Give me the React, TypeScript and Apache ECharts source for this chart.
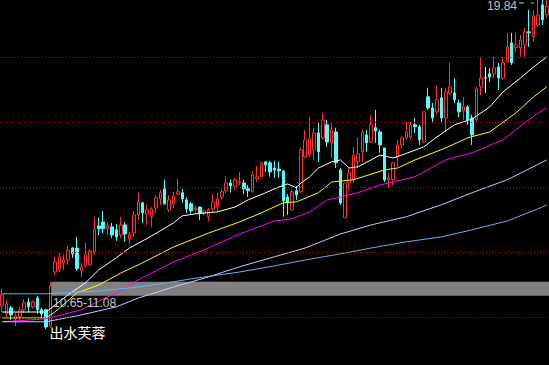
import React, { useEffect, useRef } from 'react';
import * as echarts from 'echarts';

// [open, close, low, high]
const CANDLES: [number, number, number, number][] = [
  [10.34, 10.68, 10.15, 10.86],
  [10.09, 10.40, 9.97, 10.52],
  [10.28, 10.06, 9.91, 10.34],
  [9.94, 10.03, 9.72, 10.12],
  [10.00, 10.22, 9.91, 10.31],
  [10.22, 10.43, 10.12, 10.55],
  [10.46, 10.31, 10.15, 10.58],
  [10.31, 10.46, 10.25, 10.52],
  [10.58, 10.22, 10.09, 10.65],
  [10.22, 10.09, 9.97, 10.28],
  [10.22, 9.69, 9.63, 10.25],
  [9.72, 10.95, 9.66, 11.02],
  [11.38, 11.69, 11.29, 11.85],
  [11.45, 11.85, 11.38, 11.97],
  [11.66, 11.75, 11.45, 11.91],
  [11.75, 12.06, 11.60, 12.18],
  [12.12, 11.94, 11.82, 12.15],
  [12.12, 11.48, 11.42, 12.46],
  [11.42, 11.54, 11.23, 11.66],
  [11.57, 11.91, 11.54, 12.28],
  [11.60, 12.03, 11.57, 12.09],
  [12.00, 12.71, 11.91, 13.08],
  [12.80, 12.71, 12.52, 13.05],
  [12.92, 12.71, 12.58, 13.26],
  [12.71, 12.80, 12.52, 12.92],
  [12.77, 12.52, 12.43, 12.89],
  [12.68, 12.46, 12.34, 12.86],
  [12.52, 12.83, 12.43, 13.08],
  [12.83, 12.55, 12.31, 12.92],
  [12.40, 12.55, 12.25, 12.62],
  [12.58, 13.14, 12.46, 13.26],
  [13.14, 13.54, 12.98, 13.82],
  [13.51, 13.20, 12.89, 13.54],
  [13.17, 13.29, 12.83, 13.45],
  [13.08, 13.32, 12.77, 13.38],
  [13.35, 13.66, 13.20, 13.75],
  [13.63, 13.82, 13.45, 13.91],
  [13.94, 13.48, 13.45, 14.22],
  [13.29, 13.60, 13.23, 13.75],
  [13.48, 13.72, 13.35, 13.85],
  [13.78, 13.85, 13.75, 14.25],
  [13.82, 13.63, 13.51, 13.94],
  [13.60, 13.32, 13.20, 13.69],
  [13.48, 13.26, 13.17, 13.54],
  [13.29, 13.35, 13.17, 13.42],
  [13.38, 13.20, 12.98, 13.40],
  [13.20, 13.26, 13.14, 13.29],
  [13.08, 13.29, 12.95, 13.35],
  [13.32, 13.54, 13.23, 13.78],
  [13.38, 13.63, 13.23, 13.82],
  [13.69, 13.85, 13.60, 13.94],
  [13.88, 14.12, 13.82, 14.31],
  [14.12, 14.03, 13.82, 14.22],
  [14.00, 14.22, 13.91, 14.28],
  [14.12, 14.15, 14.06, 14.46],
  [14.12, 13.94, 13.78, 14.22],
  [13.94, 13.88, 13.69, 14.06],
  [13.85, 14.37, 13.82, 14.49],
  [14.25, 14.31, 14.15, 14.65],
  [14.31, 14.74, 14.28, 14.77],
  [14.77, 14.68, 14.46, 14.80],
  [14.74, 14.46, 14.31, 14.80],
  [14.58, 14.52, 14.28, 14.80],
  [14.55, 14.49, 14.28, 14.77],
  [14.49, 13.57, 13.08, 14.52],
  [13.69, 13.51, 13.14, 13.78],
  [13.29, 13.85, 13.29, 13.91],
  [13.88, 13.75, 13.60, 14.03],
  [13.85, 15.14, 13.82, 15.20],
  [14.92, 15.45, 14.89, 15.75],
  [14.98, 15.48, 14.92, 16.15],
  [15.14, 15.66, 14.83, 15.82],
  [15.66, 15.08, 14.77, 15.97],
  [15.51, 16.06, 15.45, 16.28],
  [15.91, 15.38, 15.23, 16.06],
  [15.35, 15.75, 14.89, 15.97],
  [15.69, 14.74, 14.58, 15.82],
  [14.52, 13.51, 13.45, 14.58],
  [13.05, 14.12, 13.05, 14.12],
  [14.12, 14.43, 13.91, 14.58],
  [14.22, 14.98, 14.12, 15.23],
  [14.77, 15.02, 14.58, 15.51],
  [15.08, 15.69, 14.77, 15.75],
  [15.60, 15.35, 15.08, 15.75],
  [15.38, 15.91, 15.35, 16.22],
  [15.82, 15.72, 15.35, 16.37],
  [15.69, 15.29, 15.05, 15.75],
  [15.20, 14.22, 14.15, 15.20],
  [14.22, 14.28, 13.97, 14.43],
  [14.22, 14.74, 14.06, 14.77],
  [14.92, 15.29, 14.62, 15.45],
  [15.29, 15.51, 15.20, 15.54],
  [15.51, 15.69, 15.45, 16.00],
  [15.54, 15.91, 15.45, 16.00],
  [15.91, 15.85, 15.66, 16.12],
  [15.85, 15.45, 15.29, 15.91],
  [15.38, 16.31, 15.35, 16.31],
  [16.77, 16.43, 16.37, 17.05],
  [16.43, 16.12, 15.97, 16.58],
  [16.31, 16.68, 16.22, 17.11],
  [16.74, 16.12, 15.97, 17.05],
  [16.12, 16.92, 15.69, 17.05],
  [16.89, 17.08, 16.83, 17.82],
  [16.89, 16.68, 16.58, 17.35],
  [16.58, 16.31, 16.15, 16.68],
  [16.34, 16.46, 16.06, 16.77],
  [16.46, 16.06, 15.91, 16.52],
  [16.12, 15.60, 15.29, 16.22],
  [16.06, 17.02, 16.00, 17.08],
  [17.08, 17.35, 16.83, 18.00],
  [17.35, 17.35, 16.89, 17.69],
  [17.48, 17.38, 17.23, 17.66],
  [17.48, 17.66, 17.35, 18.00],
  [17.69, 17.35, 16.98, 17.82],
  [17.35, 17.82, 17.29, 18.00],
  [17.85, 18.31, 17.82, 18.74],
  [18.43, 17.82, 17.75, 18.74],
  [18.28, 18.37, 18.15, 18.74],
  [18.28, 18.52, 18.00, 18.68],
  [18.37, 18.77, 18.00, 18.89],
  [18.77, 18.74, 18.31, 19.45],
  [18.62, 19.26, 18.46, 19.45],
  [18.98, 19.29, 18.92, 19.84],
  [19.60, 19.14, 18.98, 19.75],
  [19.30, 19.55, 19.20, 19.75],
];

const DAYS = CANDLES.map((_, i) => `D${i + 1}`);

// moving-average lines: [candle index, price]
const MA_WHITE: [number, number][] = [
  [0, 10.15], [10, 10.15], [15, 10.68], [19, 11.05], [22, 11.45], [26, 11.82], [29, 12.12],
  [34, 12.49], [39, 12.89], [41, 13.11], [44, 13.17], [49, 13.23], [53, 13.38], [56, 13.6],
  [60, 13.82], [63, 14.0], [65, 14.09], [67, 13.97], [68, 14.12], [70, 14.31], [72, 14.58],
  [75, 14.77], [77, 14.83], [79, 14.58], [81, 14.62], [84, 14.83], [86, 14.98], [89, 14.89],
  [91, 14.98], [96, 15.23], [99, 15.54], [103, 15.91], [107, 16.09], [111, 16.46],
  [114, 16.92], [118, 17.35], [121, 17.69], [124, 18.0],
];
const MA_YELLOW: [number, number][] = [
  [0, 9.97], [10, 9.97], [12, 10.15], [17, 10.74], [22, 10.98], [27, 11.35], [31, 11.6],
  [39, 12.15], [47, 12.58], [54, 12.92], [59, 13.2], [64, 13.51], [67, 13.54], [72, 13.82],
  [75, 14.15], [80, 14.22], [87, 14.52], [90, 14.58], [94, 14.83], [101, 15.2], [106, 15.51],
  [111, 15.69], [117, 16.28], [121, 16.77], [124, 17.08],
];
const MA_MAGENTA: [number, number][] = [
  [0, 9.85], [10, 9.94], [18, 10.22], [26, 10.74], [31, 11.14], [39, 11.69], [47, 12.12],
  [54, 12.55], [62, 12.95], [66, 13.02], [70, 13.23], [74, 13.6], [77, 13.69], [81, 13.82],
  [86, 14.06], [94, 14.31], [101, 14.83], [107, 15.05], [114, 15.45], [122, 16.28], [124, 16.43],
];
const MA_LAVENDER: [number, number][] = [
  [0, 9.85], [10, 9.85], [18, 10.06], [26, 10.31], [31, 10.58], [39, 10.92], [47, 11.23],
  [54, 11.54], [62, 11.85], [69, 12.12], [77, 12.55], [84, 12.83], [92, 13.08], [100, 13.45],
  [107, 13.82], [115, 14.22], [124, 14.83],
];
const MA_BLUE: [number, number][] = [
  [0, 10.71], [10, 10.71], [22, 10.8], [31, 10.92], [39, 11.08], [43, 11.17], [54, 11.38],
  [62, 11.57], [69, 11.75], [77, 11.94], [84, 12.12], [92, 12.31], [100, 12.46], [107, 12.68],
  [115, 12.95], [123, 13.38], [124, 13.45],
];

const GRID_LEVELS = [10, 12, 14, 16, 18];
const BAND_LOW = 10.65;
const BAND_HIGH = 11.08;
const BAND_START = 11;
const BAND_TEXT = '10.65-11.08';
const SIGNAL_TEXT = '出水芙蓉';
const HIGH_TEXT = '19.84';

const Y_MIN = 8.52;
const Y_MAX = 19.75;

export default function App() {
  const ref = useRef<HTMLDivElement>(null);

  useEffect(() => {
    document.body.style.margin = '0';
    document.body.style.background = '#000';
    const chart = echarts.init(ref.current as HTMLDivElement, null, { renderer: 'svg' });

    const line = (name: string, data: [number, number][], color: string) => ({
      type: 'line',
      name,
      data,
      symbol: 'none',
      showSymbol: false,
      silent: true,
      z: 3,
      lineStyle: { color, width: 1 },
      itemStyle: { color },
    });

    chart.setOption({
      animation: false,
      backgroundColor: '#000000',
      grid: { left: 0, right: 0, top: 0, bottom: 0 },
      xAxis: { type: 'category', data: DAYS, boundaryGap: true, show: false },
      yAxis: { type: 'value', min: Y_MIN, max: Y_MAX, show: false },
      series: [
        {
          type: 'candlestick',
          name: 'K',
          data: CANDLES,
          barWidth: 3,
          z: 2,
          silent: true,
          itemStyle: {
            color: '#000000',
            color0: '#54fcfc',
            borderColor: '#ff3232',
            borderColor0: '#54fcfc',
            borderColorDoji: '#ffffff',
            borderWidth: 1,
          },
          markLine: {
            silent: true,
            symbol: 'none',
            label: { show: false },
            lineStyle: { color: '#d00000', type: [1, 2], width: 1 },
            data: GRID_LEVELS.map((v) => ({ yAxis: v })),
          },
        },
        line('MA-a', MA_WHITE, '#ffffff'),
        line('MA-b', MA_YELLOW, '#ffff00'),
        line('MA-c', MA_MAGENTA, '#ff00ff'),
        line('MA-d', MA_LAVENDER, '#c8c8ff'),
        line('MA-e', MA_BLUE, '#64b4f0'),
      ],
    });

    const top = chart.convertToPixel({ gridIndex: 0 }, [BAND_START, BAND_HIGH]) as number[];
    const bot = chart.convertToPixel({ gridIndex: 0 }, [BAND_START, BAND_LOW]) as number[];
    const W = chart.getWidth();

    chart.setOption({
      graphic: [
        {
          type: 'rect',
          z: 0,
          silent: true,
          shape: { x: top[0], y: top[1], width: W - top[0], height: bot[1] - top[1] },
          style: { fill: '#808080' },
        },
        {
          type: 'text',
          z: 10,
          silent: true,
          x: top[0] + 2.5,
          y: bot[1] + 1.5,
          style: {
            text: BAND_TEXT,
            fill: '#c8c8c8',
            fontSize: 12,
            fontFamily: '"Liberation Sans", Arial, sans-serif',
            verticalAlign: 'top',
            align: 'left',
          },
        },
        {
          type: 'text',
          z: 10,
          silent: true,
          x: top[0] - 1,
          y: 325,
          style: {
            text: SIGNAL_TEXT,
            fill: '#ffffff',
            fontSize: 14,
            fontFamily: '"Noto Sans CJK SC", sans-serif',
            verticalAlign: 'top',
            align: 'left',
          },
        },
        {
          type: 'text',
          z: 10,
          silent: true,
          x: 487,
          y: 0,
          style: {
            text: HIGH_TEXT,
            fill: '#c0c0c0',
            fontSize: 12,
            fontFamily: '"Liberation Sans", Arial, sans-serif',
            verticalAlign: 'top',
            align: 'left',
          },
        },
        {
          type: 'line',
          z: 10,
          silent: true,
          shape: { x1: 519, y1: 3, x2: 534, y2: 3 },
          style: { stroke: '#c0c0c0', lineWidth: 1, lineDash: [5, 7] },
        },
      ],
    });

    return () => chart.dispose();
  }, []);

  return (
    <div
      ref={ref}
      style={{ position: 'fixed', left: 0, top: 0, width: 549, height: 365, background: '#000' }}
    />
  );
}
